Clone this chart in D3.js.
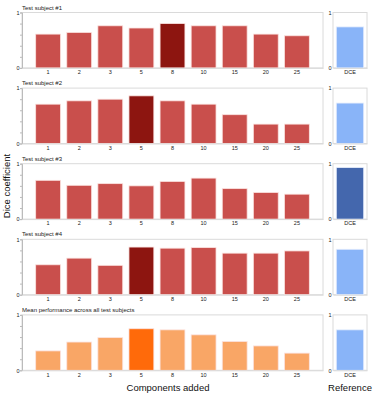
<!DOCTYPE html>
<html lang="en">
<head>
	<meta charset="utf-8">
	<title>Dice coefficient per components added</title>
	<script src="https://d3js.org/d3.v7.min.js"></script>
	<style>
		body { margin: 0; background: #fff; }
		svg { display: block; font-family: "Liberation Sans", Arial, sans-serif; }
	</style>
</head>
<body>
	<div id="chart"></div>
	<script>
		// Data
		const components = ["1", "2", "3", "5", "8", "10", "15", "20", "25"];
		const panelTitles = ["Test subject #1", "Test subject #2", "Test subject #3", "Test subject #4", "Mean performance across all test subjects"];
		const subject1 = [0.61, 0.64, 0.76, 0.72, 0.80, 0.76, 0.76, 0.61, 0.58];
		const subject2 = [0.71, 0.77, 0.80, 0.86, 0.77, 0.71, 0.52, 0.35, 0.35];
		const subject3 = [0.70, 0.61, 0.64, 0.60, 0.68, 0.74, 0.55, 0.48, 0.45];
		const subject4 = [0.54, 0.66, 0.53, 0.86, 0.84, 0.85, 0.75, 0.75, 0.79];
		const meanPerf = [0.35, 0.51, 0.59, 0.75, 0.73, 0.64, 0.52, 0.44, 0.31];
		const dceValues = [0.74, 0.73, 0.93, 0.82, 0.73];
		// highlighted bar per panel (-1: the reference method was best)
		const bestIndex = [4, 3, -1, 3, 3];
		const yTicks = [0, 0.2, 0.4, 0.6, 0.8, 1];

		const series = [subject1, subject2, subject3, subject4, meanPerf];

		// Colours
		const barColor = ["#c94f4c", "#c94f4c", "#c94f4c", "#c94f4c", "#f9a666"];
		const bestColor = ["#8d1510", "#8d1510", "#8d1510", "#8d1510", "#ff6a0a"];
		const dceColor = ["#89b4f8", "#89b4f8", "#4467ad", "#89b4f8", "#89b4f8"];

		// Dimensions
		const width = 375, height = 400;
		const panelTop = 12.5, panelStep = 75.6, panelHeight = 55.4;

		const svg = d3.select("#chart")
			.append("svg")
			.attr("width", width)
			.attr("height", height);

		const x = d3.scaleBand()
			.domain(components)
			.range([22, 323])
			.paddingInner(0.2)
			.paddingOuter(0.44);

		const xRef = d3.scaleBand()
			.domain(["DCE"])
			.range([333, 367])
			.paddingInner(0)
			.paddingOuter(0.12);

		const y = d3.scaleLinear()
			.domain([0, 1])
			.range([panelHeight, 0]);

		series.forEach((values, i) => {
			const g = svg.append("g")
				.attr("transform", `translate(0,${panelTop + i * panelStep})`);

			// Panel title
			g.append("text")
				.attr("x", 22)
				.attr("y", -3)
				.attr("font-size", 6)
				.attr("fill", "#222")
				.text(panelTitles[i]);

			// Frames
			[[22, 323], [333, 367]].forEach(([x0, x1]) => {
				g.append("rect")
					.attr("x", x0)
					.attr("y", y(1))
					.attr("width", x1 - x0)
					.attr("height", y(0) - y(1))
					.attr("fill", "none")
					.attr("stroke", "#dadada")
					.attr("stroke-width", 1);
			});

			// Bars
			g.selectAll(".bar")
				.data(values)
				.join("rect")
				.attr("class", "bar")
				.attr("x", (d, j) => x(components[j]))
				.attr("y", d => y(d))
				.attr("width", x.bandwidth())
				.attr("height", d => y(0) - y(d))
				.attr("fill", (d, j) => j === bestIndex[i] ? bestColor[i] : barColor[i])
				.attr("stroke", "#fbe3e0")
				.attr("stroke-width", 0.8);

			g.append("rect")
				.attr("x", xRef("DCE"))
				.attr("y", y(dceValues[i]))
				.attr("width", xRef.bandwidth())
				.attr("height", y(0) - y(dceValues[i]))
				.attr("fill", dceColor[i])
				.attr("stroke", "#e6eefc")
				.attr("stroke-width", 0.8);

			// Axes
			const yAxis = g.append("g")
				.attr("transform", "translate(22,0)")
				.call(d3.axisLeft(y).tickValues(yTicks).tickSize(2)
					.tickFormat(d => (d === 0 || d === 1) ? d3.format("d")(d) : ""))
				.style("font-size", "5.5px");
			yAxis.select(".domain").attr("stroke", "#bbb");
			yAxis.selectAll(".tick line").attr("stroke", "#bbb");
			yAxis.selectAll(".tick text").attr("fill", "#222").attr("x", -2.5);

			const yAxisRef = g.append("g")
				.attr("transform", "translate(333,0)")
				.call(d3.axisLeft(y).tickValues([0, 1]).tickSize(0).tickFormat(d3.format("d")))
				.style("font-size", "5.5px");
			yAxisRef.select(".domain").remove();
			yAxisRef.selectAll(".tick text").attr("fill", "#222").attr("x", -1.5);

			const xAxis = g.append("g")
				.attr("transform", `translate(0,${panelHeight})`)
				.call(d3.axisBottom(x).tickSize(0).tickPadding(2.5))
				.style("font-size", "5.5px");
			xAxis.select(".domain").attr("stroke", "#dadada");
			xAxis.selectAll(".tick text").attr("fill", "#222");

			const xAxisRef = g.append("g")
				.attr("transform", `translate(0,${panelHeight})`)
				.call(d3.axisBottom(xRef).tickSize(0).tickPadding(2.5))
				.style("font-size", "5.5px");
			xAxisRef.select(".domain").attr("stroke", "#dadada");
			xAxisRef.selectAll(".tick text").attr("fill", "#222");
		});

		// Axis titles
		svg.append("text")
			.attr("transform", "translate(10,186) rotate(-90)")
			.attr("text-anchor", "middle")
			.attr("font-size", 9.5)
			.attr("fill", "#111")
			.text("Dice coefficient");

		svg.append("text")
			.attr("x", 168)
			.attr("y", 391)
			.attr("text-anchor", "middle")
			.attr("font-size", 9.5)
			.attr("fill", "#111")
			.text("Components added");

		svg.append("text")
			.attr("x", 350)
			.attr("y", 391)
			.attr("text-anchor", "middle")
			.attr("font-size", 9.5)
			.attr("fill", "#111")
			.text("Reference");
	</script>
</body>
</html>
